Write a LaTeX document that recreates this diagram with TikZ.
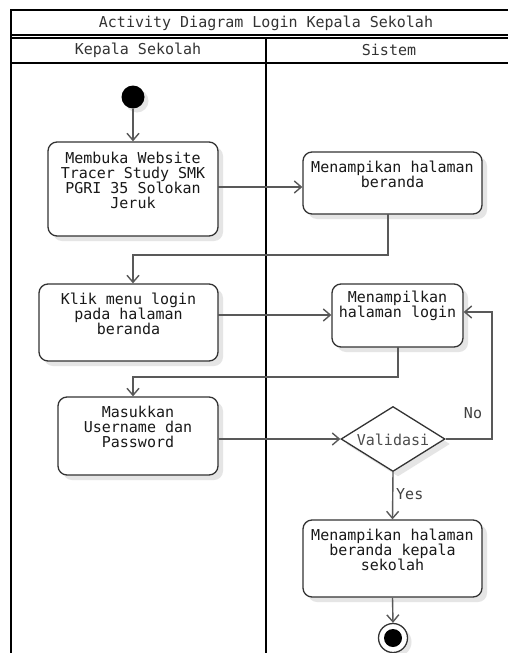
\documentclass[tikz,border=0pt]{standalone}
\usepackage{fontspec}
\newfontfamily\monofnt{DejaVu Sans Mono}
\usetikzlibrary{arrows.meta,shapes.geometric,shadows,calc}
\begin{document}
\begin{tikzpicture}[x=1pt,y=-1pt,
  act/.style={draw=black!80, line width=1.3pt, rounded corners=9pt, fill=white, inner sep=0pt,
    drop shadow={shadow xshift=5pt,shadow yshift=-5pt,fill=black!10,opacity=1}},
  txt/.style={font=\monofnt\fontsize{15}{15}\selectfont, text=black!90, align=center, inner sep=0pt},
  flow/.style={draw=black!65, line width=1.4pt, -{Straight Barb[length=7pt,width=12pt]}},
  frameline/.style={line width=2pt, draw=black},
  lbl/.style={font=\monofnt\fontsize{15}{15}\selectfont, text=black!75, inner sep=0pt}]
\useasboundingbox (0,0) rectangle (508,653);
\fill[white] (0,0) rectangle (508,653);

% frame
\draw[frameline] (508,10) -- (11,10) -- (11,653);
\draw[frameline] (11,34.5) -- (508,34.5);
\draw[frameline] (11,38) -- (508,38);
\draw[frameline] (11,62.5) -- (508,62.5);
\draw[frameline] (265.5,38) -- (265.5,653);
\node[lbl, text=black!80] (title) at (266,23) {Activity Diagram Login Kepala Sekolah};
\node[lbl, text=black!80] (lane1) at (138,50) {Kepala Sekolah};
\node[lbl, text=black!80] (lane2) at (389,50) {Sistem};

% nodes
\node[circle, fill=black, minimum size=23pt, inner sep=0pt,
  drop shadow={shadow xshift=4pt,shadow yshift=-4pt,fill=black!10,opacity=1}] (start) at (133,97) {};

\node[act, minimum width=170pt, minimum height=94pt] (b1) at (133,189) {};
\node[txt] (t1) at (133,180) {Membuka Website\\Tracer Study SMK\\PGRI 35 Solokan\\Jeruk};

\node[act, minimum width=179pt, minimum height=62pt] (b2) at (392.5,183) {};
\node[txt] (t2) at (392.5,174) {Menampikan halaman\\beranda};

\node[act, minimum width=179pt, minimum height=77pt] (b3) at (128.5,322.5) {};
\node[txt] (t3) at (128.5,314) {Klik menu login\\pada halaman\\beranda};

\node[act, minimum width=131pt, minimum height=63pt] (b4) at (397.5,315.5) {};
\node[txt] (t4) at (397.5,306) {Menampilkan\\halaman login};

\node[act, minimum width=160pt, minimum height=78pt] (b5) at (138,436) {};
\node[txt] (t5) at (138,427) {Masukkan\\Username dan\\Password};

\node[diamond, draw=black!80, line width=1.3pt, fill=white, minimum width=104pt, minimum height=65pt, inner sep=0pt,
  drop shadow={shadow xshift=5pt,shadow yshift=-5pt,fill=black!10,opacity=1}] (d) at (393,439) {};
\node[lbl, text=black!70] (td) at (393,440) {Validasi};

\node[act, minimum width=179pt, minimum height=77pt] (b6) at (392.5,558.5) {};
\node[txt] (t6) at (392.5,550) {Menampikan halaman\\beranda kepala\\sekolah};

\node[circle, draw=black!80, line width=1.3pt, fill=white, minimum size=29pt, inner sep=0pt,
  drop shadow={shadow xshift=4pt,shadow yshift=-4pt,fill=black!10,opacity=1}] (end) at (393,638) {};
\fill[black] (end.center) circle (9pt);

% connectors
\draw[flow] (start) -- (b1);
\coordinate (e1) at (218,187);
\draw[flow] (e1) -- (e1 -| b2.west);

\coordinate (k1) at (388,214);
\coordinate (k2) at (133,255);
\draw[flow] (k1) |- (k2) -- (k2 |- b3.north);

\coordinate (e3) at (218,315);
\draw[flow] (e3) -- (e3 -| b4.west);

\coordinate (k3) at (398,347);
\coordinate (k4) at (133,377);
\draw[flow] (k3) |- (k4) -- (k4 |- b5.north);

\draw[flow] (b5.east |- d.west) -- (d.west);

\coordinate (k5) at (492,439);
\coordinate (k6) at (492,312);
\draw[flow] (d.east) -- (k5) -- (k6) -- (k6 -| b4.east);
\node[lbl] (no) at (473,413) {No};

\draw[flow] (d.south) -- (b6.north);
\node[lbl, anchor=west] (yes) at (396,494) {Yes};

\draw[flow] (b6.south) -- (end.north);
\end{tikzpicture}
\end{document}
